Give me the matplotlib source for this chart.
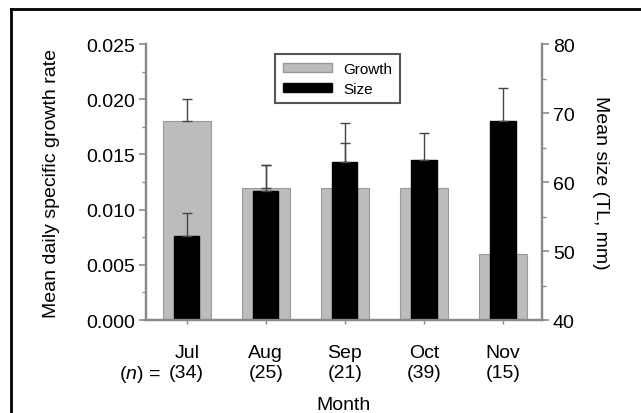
import numpy as np
import matplotlib
matplotlib.use("Agg")
import matplotlib.pyplot as plt
from matplotlib.lines import Line2D
from matplotlib.ticker import MultipleLocator

plt.rcParams['font.family'] = ['Liberation Sans', 'DejaVu Sans']
plt.rcParams['mathtext.fontset'] = 'custom'
plt.rcParams['mathtext.rm'] = 'Liberation Sans'
plt.rcParams['mathtext.it'] = 'Liberation Sans:italic'

# data
months = ['Jul', 'Aug', 'Sep', 'Oct', 'Nov']
n_fish = [34, 25, 21, 39, 15]
growth = [0.018, 0.012, 0.012, 0.012, 0.006]
growth_err = [0.002, 0.002, 0.004, 0.002, 0.002]
size = [52.2, 58.7, 62.9, 63.2, 68.9]
size_err = [3.3, 3.7, 5.7, 3.9, 4.7]

x = np.arange(len(months))
gray = '#bcbcbc'
err_col = '#444444'

fig = plt.figure(figsize=(6.41, 4.14), dpi=100)
ax = fig.add_axes([0.2278, 0.2246, 0.6172, 0.6665])
ax2 = ax.twinx()

ax.bar(x, growth, width=0.61, color=gray, edgecolor='#9a9a9a', linewidth=0.8,
       yerr=[np.zeros(len(x)), growth_err], capsize=3.5,
       error_kw=dict(ecolor=err_col, elinewidth=1, capthick=1), zorder=2)
ax2.bar(x, size, width=0.32, color='black', edgecolor='black',
        yerr=[np.zeros(len(x)), size_err], capsize=3.5,
        error_kw=dict(ecolor=err_col, elinewidth=1, capthick=1), zorder=2)

ax.set_xlim(-0.515, 4.49)
ax.set_ylim(0, 0.025)
ax2.set_ylim(40, 80)

ax.yaxis.set_major_locator(MultipleLocator(0.005))
ax.yaxis.set_minor_locator(MultipleLocator(0.0025))
ax.yaxis.set_major_formatter(matplotlib.ticker.FormatStrFormatter('%.3f'))
ax2.yaxis.set_major_locator(MultipleLocator(10))
ax2.yaxis.set_minor_locator(MultipleLocator(5))

ax.set_xticks(x)
ax.set_xticklabels([f'{m}\n({n})' for m, n in zip(months, n_fish)], linespacing=1.25)

spine_col = '#8a8a8a'
for a in (ax, ax2):
    a.spines['top'].set_visible(False)
    for s in ('left', 'right', 'bottom'):
        a.spines[s].set_color(spine_col)
        a.spines[s].set_linewidth(1.6)
    a.tick_params(axis='y', which='major', length=5, width=1.2, color=spine_col,
                  labelsize=14, pad=3)
    a.tick_params(axis='y', which='minor', length=3, width=1, color=spine_col)
ax.tick_params(axis='x', length=3, width=1, color=spine_col, labelsize=14, pad=14)

ax.set_ylabel('Mean daily specific growth rate', fontsize=14, labelpad=19)
ax2.set_ylabel('Mean size (TL, mm)', fontsize=14, rotation=270, labelpad=25)
ax.set_xlabel('Month', fontsize=14, labelpad=11)

# "(n) =" in front of the first count
ax.text(-0.33, -0.195, r'($n$) =', transform=ax.get_xaxis_transform(),
        fontsize=14, ha='right', va='center')

handles = [plt.Rectangle((0, 0), 1, 1, facecolor=gray, edgecolor='#9a9a9a'),
           plt.Rectangle((0, 0), 1, 1, facecolor='black', edgecolor='black')]
leg = ax2.legend(handles, ['Growth', 'Size'], loc='upper left',
                 bbox_to_anchor=(0.326, 0.964), fontsize=11, fancybox=False,
                 edgecolor='#555555', framealpha=1, handlelength=3.2,
                 handleheight=0.55, borderpad=0.5, labelspacing=0.4,
                 handletextpad=0.8, borderaxespad=0)
leg.get_frame().set_linewidth(1.5)
leg._legend_box.sep = 0

# partial frame around the figure
fig.add_artist(Line2D([11 / 641, 11 / 641], [0, 1 - 10 / 414], color='black', lw=2))
fig.add_artist(Line2D([11 / 641, 1], [1 - 10 / 414, 1 - 10 / 414], color='black', lw=2))

fig.savefig('out.png', dpi=100)
